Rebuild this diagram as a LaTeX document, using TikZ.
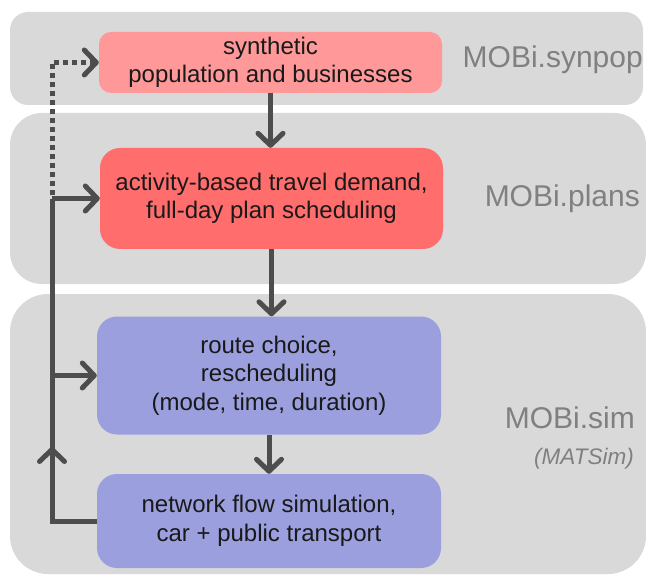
\documentclass[tikz,border=0pt]{standalone}
\usepackage{fontspec}
\setmainfont{Liberation Sans}
\usetikzlibrary{arrows.meta}
\definecolor{panelgray}{HTML}{D9D9D9}
\definecolor{pinkA}{HTML}{FF9999}
\definecolor{redA}{HTML}{FF6D6D}
\definecolor{blueA}{HTML}{9B9FDD}
\definecolor{arrowgray}{HTML}{4D4D4D}
\definecolor{labelgray}{HTML}{808080}
\tikzset{
  panel/.style={fill=panelgray, draw=none},
  box/.style={draw=none, align=center, text=black!90, inner sep=0pt,
    font=\fontsize{24}{28.5}\selectfont,
    execute at begin node={\rule{0pt}{24.5pt}}},
  lbl/.style={text=labelgray, inner sep=0pt, anchor=east, font=\fontsize{30}{34}\selectfont},
  conn/.style={draw=arrowgray, line width=5pt, line join=miter},
  tipped/.style={-{Straight Barb[length=12pt,width=25pt,round]}},
  dots/.style={dash pattern=on 5pt off 4pt},
}
\begin{document}
\begin{tikzpicture}[x=1pt,y=-1pt]
\useasboundingbox (0,0) rectangle (646,575);
% panels
\fill[panel, rounded corners=18pt] (10,12) rectangle (643,105);
\fill[panel, rounded corners=32pt] (10,113) rectangle (646,284);
\fill[panel, rounded corners=38pt] (10,294) rectangle (646,574);
% boxes
\node[box, fill=pinkA, rounded corners=12pt, minimum width=343pt, minimum height=61pt] (synpop) at (270.5,62.5) {synthetic\\population and businesses};
\node[box, fill=redA, rounded corners=20pt, minimum width=343pt, minimum height=101pt] (plans) at (271.5,198.5) {activity-based travel demand,\\full-day plan scheduling};
\node[box, fill=blueA, rounded corners=20pt, minimum width=344pt, minimum height=118pt] (route) at (269,375.5) {route choice,\\rescheduling\\(mode, time, duration)};
\node[box, fill=blueA, rounded corners=20pt, minimum width=344pt, minimum height=94pt] (net) at (269,521) {network flow simulation,\\car + public transport};
% labels
\node[lbl] (lsyn) at (643,60) {MOBi.synpop};
\node[lbl] (lplans) at (640,199) {MOBi.plans};
\node[lbl] (lsim) at (635,418) {MOBi.sim};
\node[lbl, font=\fontsize{22.5}{26}\selectfont\itshape] (lmat) at (634,459) {(MATSim)};
% main flow
\draw[conn, tipped] (synpop.south) -- (synpop.south |- plans.north);
\draw[conn, tipped] (plans.south) -- (plans.south |- route.north);
\draw[conn, tipped] (route.south) -- (route.south |- net.north);
% feedback loop
\coordinate (fx) at (52,0);
\coordinate (up) at (52,447);
\draw[conn] (net.west) -- (net.west -| fx) -- ([yshift=-3pt]plans.west -| fx);
\draw[conn, tipped] (net.west -| fx) -- (up);
\draw[conn, tipped] (route.west -| fx) -- (route.west);
\draw[conn, tipped] (plans.west -| fx) -- (plans.west);
\draw[conn, dots, tipped] ([yshift=-6pt]plans.west -| fx) -- (synpop.west -| fx) -- (synpop.west);
\end{tikzpicture}
\end{document}
